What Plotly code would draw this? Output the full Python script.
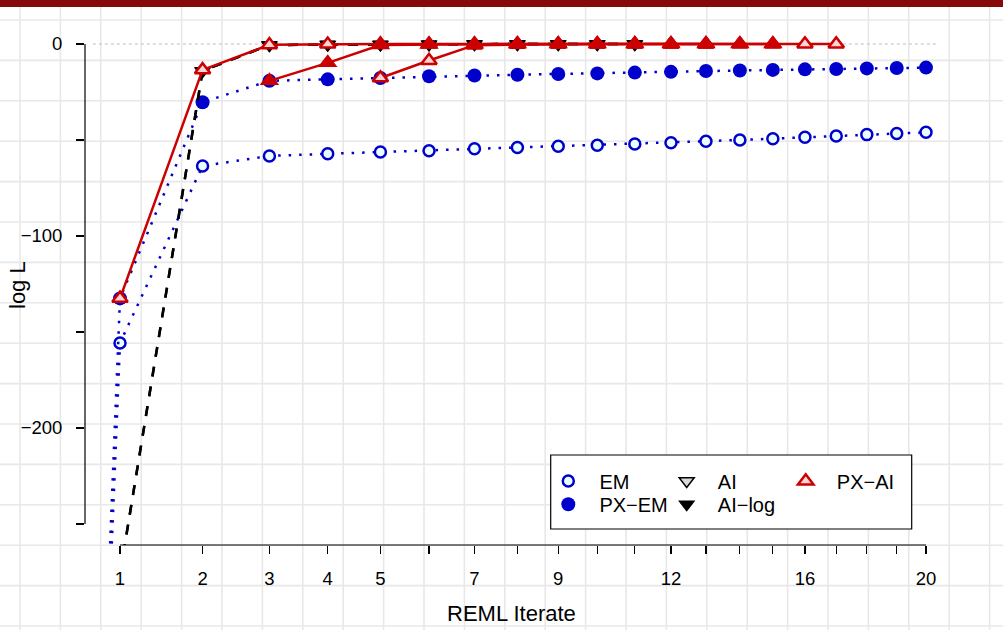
import plotly.graph_objects as go

W, H = 1003, 630
XPOW = 0.6  # the x axis uses a power (x^0.6) scale

# ---------------- data: log L (relative to the maximum) per REML iterate ----------------
em_iter = list(range(0, 21))
em_logL = [-2200, -155.7, -63.5, -58.3, -57.2, -56.3, -55.6, -54.6, -53.9, -53.3, -52.7,
           -52.1, -51.4, -50.7, -50.0, -49.3, -48.6, -47.9, -47.2, -46.6, -46.0]

pxem_iter = list(range(0, 21))
pxem_logL = [-2200, -132.5, -30.3, -19.2, -18.4, -17.7, -16.8, -16.4, -16.0, -15.6, -15.3,
             -14.9, -14.5, -14.1, -13.8, -13.5, -13.2, -13.0, -12.7, -12.5, -12.3]

ai_iter = list(range(1, 12))
ai_logL = [-276, -14.0, -0.5, -0.3, -0.2, -0.1, -0.05, -0.02, -0.01, 0.0, 0.0]

ailog_iter = list(range(1, 12))
ailog_logL = [-276, -14.0, -0.5, -0.3, -0.2, -0.1, -0.05, -0.02, -0.01, 0.0, 0.0]

pxai_iter = list(range(1, 14))
pxai_logL = [-132.5, -13.5, -0.4, -0.1, -0.05, -0.02, -0.01, 0.0, 0.0, 0.0, 0.0, 0.0, 0.0]

pxai_r3_iter = list(range(3, 16))
pxai_r3_logL = [-19.2, -9.8, -0.5, -0.2, -0.1, -0.05, -0.02, -0.01, 0.0, 0.0, 0.0, 0.0, 0.0]

pxai_r5_iter = list(range(5, 18))
pxai_r5_logL = [-17.7, -8.6, -0.6, -0.2, -0.1, -0.05, -0.02, -0.01, 0.0, 0.0, 0.0, 0.0, 0.0]

x_tick_vals = list(range(1, 21))
x_tick_labels = ["1", "2", "3", "4", "5", "", "7", "", "9", "", "", "12", "", "", "", "16",
                 "", "", "", "20"]
y_tick_vals = [0, -50, -100, -150, -200, -250]
y_tick_labels = ["0", "", "\u2212100", "", "\u2212200", ""]

# ---------------- styling ----------------
FONT = "Liberation Sans, Arial, Helvetica, sans-serif"
BLUE = "#0000CC"
RED = "#CC0000"
BLACK = "#000000"


def fx(v):
    return [i ** XPOW for i in v]


def pxx(p):
    return p / W


def pxy(p):
    return 1 - p / H


# plot region in pixels
L, R, T, B = 85, 961, 24, 545
x_scale = (926 - 120) / (20 ** XPOW - 1)
x_range = [1 - (120 - L) / x_scale, 20 ** XPOW + (R - 926) / x_scale]
y_scale = 1.92
y_range = [-(B - 44) / y_scale, (44 - T) / y_scale]

fig = go.Figure()


def add_series(name, xs, ys, line, marker, legend=None):
    fig.add_trace(go.Scatter(x=fx(xs), y=ys, mode="lines", line=line,
                             showlegend=False, hoverinfo="skip"))
    fig.add_trace(go.Scatter(x=fx(xs), y=ys, mode="markers", marker=marker,
                             name="\u00a0\u00a0" + name, showlegend=legend is not None,
                             legend=legend if legend else "legend"))


add_series("EM", em_iter, em_logL,
           dict(color=BLUE, width=2.5, dash="2.5px,8px"),
           dict(symbol="circle", size=11, color="#EBFFFF", line=dict(color=BLUE, width=2.5)),
           legend="legend")
add_series("PX\u2212EM", pxem_iter, pxem_logL,
           dict(color=BLUE, width=2.5, dash="2.5px,8px"),
           dict(symbol="circle", size=14, color=BLUE, line=dict(color=BLUE, width=0)),
           legend="legend2")
add_series("AI", ai_iter, ai_logL,
           dict(color=BLACK, width=2.5, dash="10px,10px"),
           dict(symbol="triangle-down", size=13, color="#D9D9D9", line=dict(color=BLACK, width=1.5)),
           legend="legend3")
add_series("AI\u2212log", ailog_iter, ailog_logL,
           dict(color=BLACK, width=2.5, dash="10px,10px"),
           dict(symbol="triangle-down", size=15, color=BLACK, line=dict(color=BLACK, width=0)),
           legend="legend4")
add_series("PX\u2212AI", pxai_iter, pxai_logL,
           dict(color=RED, width=2.5),
           dict(symbol="triangle-up", size=13.5, color="#F9D5D5", line=dict(color=RED, width=2.5)),
           legend="legend5")
add_series("PX\u2212AI (from 5)", pxai_r5_iter, pxai_r5_logL,
           dict(color=RED, width=2.5),
           dict(symbol="triangle-up", size=13.5, color="#F9D5D5", line=dict(color=RED, width=2.5)))
add_series("PX\u2212AI (from 3)", pxai_r3_iter, pxai_r3_logL,
           dict(color=RED, width=2.5),
           dict(symbol="triangle-up", size=17, color=RED, line=dict(color=RED, width=0)))

shapes = []
# graph-paper background
GRID = 40.4
k = 0
while 20 + k * GRID <= W:
    xp = 20 + k * GRID
    shapes.append(dict(type="line", xref="paper", yref="paper", x0=pxx(xp), x1=pxx(xp),
                       y0=0, y1=1, line=dict(color="#E8E8E8", width=1.6), layer="below"))
    k += 1
k = 0
while 20 + k * GRID <= H:
    yp = 20 + k * GRID
    shapes.append(dict(type="line", xref="paper", yref="paper", x0=0, x1=1,
                       y0=pxy(yp), y1=pxy(yp), line=dict(color="#E8E8E8", width=1.6), layer="below"))
    k += 1
# top banner
shapes.append(dict(type="rect", xref="paper", yref="paper", x0=0, x1=1, y0=pxy(7), y1=1,
                   fillcolor="#870A0A", line=dict(width=0), layer="above"))
# reference line at log L = 0
shapes.append(dict(type="line", xref="x domain", yref="y", x0=0.009, x1=0.974, y0=0, y1=0,
                   line=dict(color="#BDBDBD", width=1, dash="dot"), layer="below"))
# R-style axis lines spanning first to last tick
shapes.append(dict(type="line", xref="paper", yref="y", x0=pxx(L), x1=pxx(L),
                   y0=y_tick_vals[-1], y1=y_tick_vals[0], line=dict(color=BLACK, width=1.2)))
shapes.append(dict(type="line", xref="x", yref="paper", x0=x_tick_vals[0] ** XPOW,
                   x1=x_tick_vals[-1] ** XPOW, y0=pxy(B), y1=pxy(B),
                   line=dict(color=BLACK, width=1.2)))
# legend box
shapes.append(dict(type="rect", xref="paper", yref="paper", x0=pxx(550.7), x1=pxx(911.7),
                   y0=pxy(529), y1=pxy(455), fillcolor="white",
                   line=dict(color=BLACK, width=1.2), layer="below"))


def legend_at(mx, my):
    return dict(x=pxx(mx - 20), y=pxy(my - 18.5), xanchor="left", yanchor="top",
                bgcolor="rgba(0,0,0,0)", borderwidth=0,
                font=dict(family=FONT, size=20, color=BLACK))


fig.update_layout(
    width=W, height=H, autosize=False,
    margin=dict(l=0, r=0, t=0, b=0),
    paper_bgcolor="white", plot_bgcolor="rgba(0,0,0,0)",
    font=dict(family=FONT, size=18, color=BLACK),
    shapes=shapes,
    legend=legend_at(568.3, 480),
    legend2=legend_at(568.3, 503.3),
    legend3=legend_at(686.7, 480),
    legend4=legend_at(686.7, 503.3),
    legend5=legend_at(805.7, 480),
    xaxis=dict(domain=[pxx(L), pxx(R)], range=x_range, showgrid=False, zeroline=False,
               showline=False, tickmode="array", tickvals=fx(x_tick_vals), ticktext=x_tick_labels,
               ticks="outside", ticklen=8, tickwidth=1.2, tickcolor=BLACK,
               tickfont=dict(family=FONT, size=18.5, color=BLACK), ticklabelstandoff=9,
               automargin=False, fixedrange=True),
    yaxis=dict(domain=[pxy(B), pxy(T)], range=y_range, showgrid=False, zeroline=False,
               showline=False, tickmode="array", tickvals=y_tick_vals, ticktext=y_tick_labels,
               ticks="outside", ticklen=8, tickwidth=1.2, tickcolor=BLACK,
               tickfont=dict(family=FONT, size=18.5, color=BLACK), ticklabelstandoff=10,
               automargin=False, fixedrange=True),
    annotations=[
        dict(text="REML Iterate", xref="paper", yref="paper", x=pxx(512), y=pxy(613),
             xanchor="center", yanchor="middle", showarrow=False,
             font=dict(family=FONT, size=22, color=BLACK)),
        dict(text="log L", xref="paper", yref="paper", x=pxx(18), y=pxy(285),
             xanchor="center", yanchor="middle", showarrow=False, textangle=-90,
             font=dict(family=FONT, size=22, color=BLACK)),
    ],
)

fig.write_html("out.html",
               config={"displayModeBar": False, "staticPlot": True},
               post_script="document.body.style.margin='0px';"
                           "document.body.style.overflow='hidden';")
